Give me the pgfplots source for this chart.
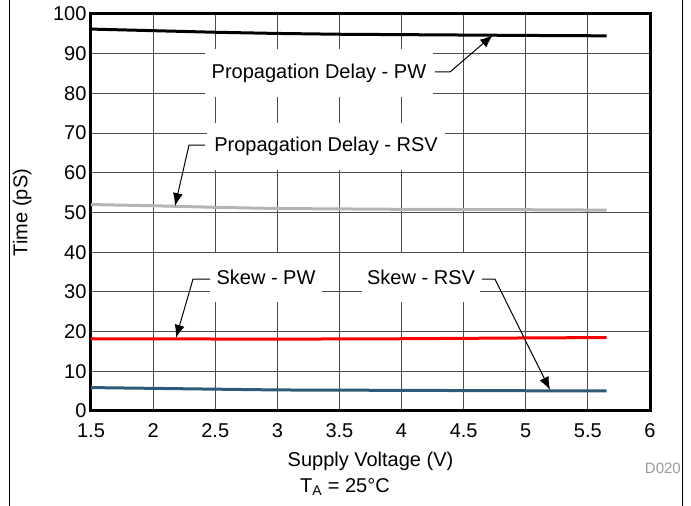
\documentclass[border=0pt]{standalone}
\usepackage{pgfplots}
\pgfplotsset{compat=1.18}
\usepackage{fontspec}
\setmainfont{Liberation Sans}
\usetikzlibrary{arrows.meta}
\definecolor{skewrsv}{HTML}{2E5C78}
\definecolor{rsvgray}{HTML}{B4B4B4}
\newcommand{\bigf}{\fontsize{20}{24}\selectfont}
\begin{document}
\begin{tikzpicture}
\path[use as bounding box] (0,0) rectangle (691pt,506pt);
\draw[line width=1pt] (9pt,0) -- (9pt,506pt);
\draw[line width=1pt] (682pt,0) -- (682pt,506pt);
\begin{axis}[
  at={(91pt,95pt)}, anchor=south west,
  scale only axis, width=559pt, height=397pt,
  xmin=1.5, xmax=6, ymin=0, ymax=100,
  xtick={1.5,2,2.5,3,3.5,4,4.5,5,5.5,6},
  xticklabels={1.5,2,2.5,3,3.5,4,4.5,5,5.5,6},
  ytick={0,10,...,100},
  /pgf/number format/assume math mode=true,
  major tick length=0pt,
  axis line style={line width=3pt},
  grid=major,
  major grid style={black!70, line width=0.9pt},
  ticklabel style={font=\bigf},
  xticklabel style={yshift=-9pt},
  yticklabel style={xshift=-1pt},
  label style={font=\bigf},
  xlabel={Supply Voltage (V)},
  ylabel={Time (pS)},
  xlabel style={at={(axis description cs:0.5,-0.128)}, anchor=center},
  ylabel style={at={(axis description cs:-0.123,0.5)}, anchor=center},
  clip=false,
]
\addplot[black, line width=3pt] coordinates {(1.5,96.2)(2,95.8)(2.5,95.4)(3,95.1)(3.5,94.9)(4,94.8)(4.5,94.7)(5,94.6)(5.65,94.5)};
\addplot[rsvgray, line width=3pt] coordinates {(1.5,52.0)(2,51.7)(2.5,51.3)(3,51.0)(3.5,50.9)(4,50.8)(5,50.7)(5.65,50.6)};
\addplot[red, line width=3pt] coordinates {(1.5,18.2)(3,18.1)(4,18.2)(5,18.4)(5.65,18.5)};
\addplot[skewrsv, line width=3pt] coordinates {(1.5,5.9)(2,5.7)(2.5,5.5)(3,5.3)(4,5.2)(5,5.1)(5.65,5.1)};

\node[fill=white, minimum width=228pt, minimum height=48pt, inner sep=0pt, font=\bigf] at (axis cs:3.335,85.1) {Propagation Delay - PW};
\node[fill=white, minimum width=238pt, minimum height=47pt, inner sep=0pt, font=\bigf] at (axis cs:3.392,66.6) {Propagation Delay - RSV};
\node[fill=white, minimum width=112pt, minimum height=49pt, inner sep=0pt, font=\bigf] at (axis cs:2.909,33.6) {Skew - PW};
\node[fill=white, minimum width=118pt, minimum height=49pt, inner sep=0pt, font=\bigf] at (axis cs:4.157,33.6) {Skew - RSV};

\draw[line width=1pt, -{Latex[length=13pt,width=10pt]}] (axis cs:4.269,85.4) -- (axis cs:4.390,85.4) -- (axis cs:4.736,94.7);
\draw[line width=1pt, -{Latex[length=13pt,width=10pt]}] (axis cs:2.418,67.0) -- (axis cs:2.289,67.0) -- (axis cs:2.176,51.6);
\draw[line width=1pt, -{Latex[length=13pt,width=10pt]}] (axis cs:2.458,33.2) -- (axis cs:2.321,33.2) -- (axis cs:2.184,18.4);
\draw[line width=1pt, -{Latex[length=13pt,width=10pt]}] (axis cs:4.648,33.2) -- (axis cs:4.752,33.2) -- (axis cs:5.195,5.3);
\end{axis}
\node[text=black!40, font=\fontsize{15}{18}\selectfont, anchor=east, inner sep=0pt] at (681pt,38pt) {D020};
\node[font=\bigf] at (345pt,19pt) {T\textsubscript{A} = 25°C};
\end{tikzpicture}
\end{document}
